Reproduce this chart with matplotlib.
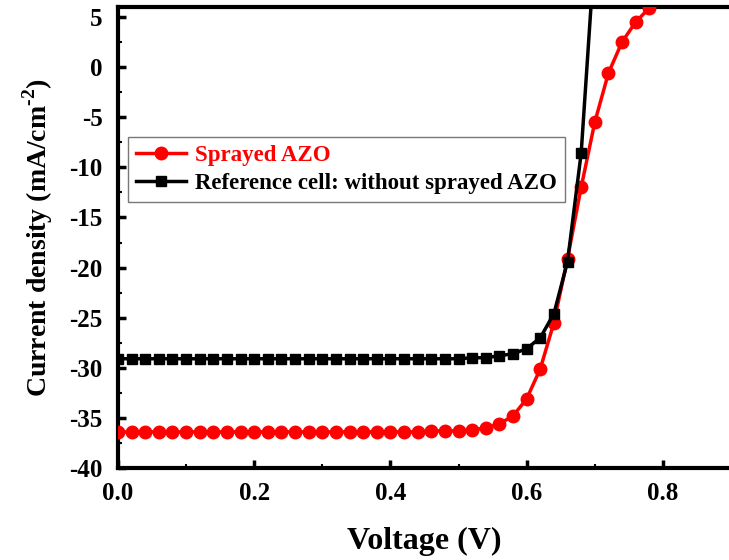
import numpy as np
import matplotlib.pyplot as plt

plt.rcParams['font.family'] = ['Liberation Serif', 'DejaVu Serif']
plt.rcParams['font.weight'] = 'bold'
plt.rcParams['axes.unicode_minus'] = False
plt.rcParams['mathtext.fontset'] = 'custom'
plt.rcParams['mathtext.rm'] = 'Liberation Serif:bold'
plt.rcParams['mathtext.bf'] = 'Liberation Serif:bold'

# データ (電圧 V, 電流密度 mA/cm^2)
voltage_azo = np.round(np.arange(0, 0.781, 0.02), 2)
current_azo = [
    -36.4, -36.4, -36.4, -36.4, -36.4, -36.4, -36.4, -36.4, -36.4, -36.4,
    -36.4, -36.4, -36.4, -36.4, -36.4, -36.4, -36.4, -36.4, -36.4, -36.4,
    -36.4, -36.4, -36.4, -36.3, -36.3, -36.3, -36.2, -36.0, -35.6, -34.8,
    -33.1, -30.1, -25.5, -19.1, -12.0, -5.5, -0.6, 2.5, 4.5, 5.9,
]

voltage_ref = np.round(np.arange(0, 0.701, 0.02), 2)
current_ref = [
    -29.1, -29.1, -29.1, -29.1, -29.1, -29.1, -29.1, -29.1, -29.1, -29.1,
    -29.1, -29.1, -29.1, -29.1, -29.1, -29.1, -29.1, -29.1, -29.1, -29.1,
    -29.1, -29.1, -29.1, -29.1, -29.1, -29.1, -29.0, -29.0, -28.8, -28.6,
    -28.1, -27.0, -24.6, -19.4, -8.6, 11.7,
]

fig = plt.figure(figsize=(7.29, 5.6), dpi=100)
ax = fig.add_axes([118 / 729, 92 / 560, 613 / 729, 461 / 560])

ax.plot(voltage_azo, current_azo, color='red', marker='o', markersize=9,
        linewidth=2.5, label='Sprayed AZO', zorder=3)
ax.plot(voltage_ref, current_ref, color='black', marker='s', markersize=6.5,
        linewidth=2.5, label='Reference cell: without sprayed AZO', zorder=4)

ax.set_xlim(0, 0.9)
ax.set_ylim(-40, 6)
ax.set_xticks([0.0, 0.2, 0.4, 0.6, 0.8])
ax.set_xticks([0.1, 0.3, 0.5, 0.7], minor=True)
ax.set_yticks(np.arange(-40, 6, 5))
ax.set_yticks(np.arange(-37.5, 6, 5), minor=True)
ax.set_xticklabels(['0.0', '0.2', '0.4', '0.6', '0.8'])

ax.tick_params(axis='both', which='major', direction='in', length=6, width=2.5,
               labelsize=18)
ax.tick_params(axis='both', which='minor', direction='in', length=3, width=1.5)
ax.tick_params(axis='x', which='major', pad=10)
ax.tick_params(axis='y', which='major', pad=11)
for s in ax.spines.values():
    s.set_linewidth(3)
ax.spines['right'].set_visible(False)

ax.set_xlabel('Voltage (V)', fontsize=23, fontweight='bold', labelpad=16)
ax.set_ylabel('Current density (mA/cm$^{\\text{-2}}$)', fontsize=20, fontweight='bold', labelpad=10)

leg = ax.legend(loc='upper left', bbox_to_anchor=(0.016, 0.718), fontsize=16.5,
                frameon=True, fancybox=False, edgecolor='#555555', handlelength=2.2,
                borderpad=0.35, labelspacing=0.3, handletextpad=0.4, borderaxespad=0)
leg.get_frame().set_linewidth(1.0)
leg.get_texts()[0].set_color('red')

plt.savefig('out.png', dpi=100)
